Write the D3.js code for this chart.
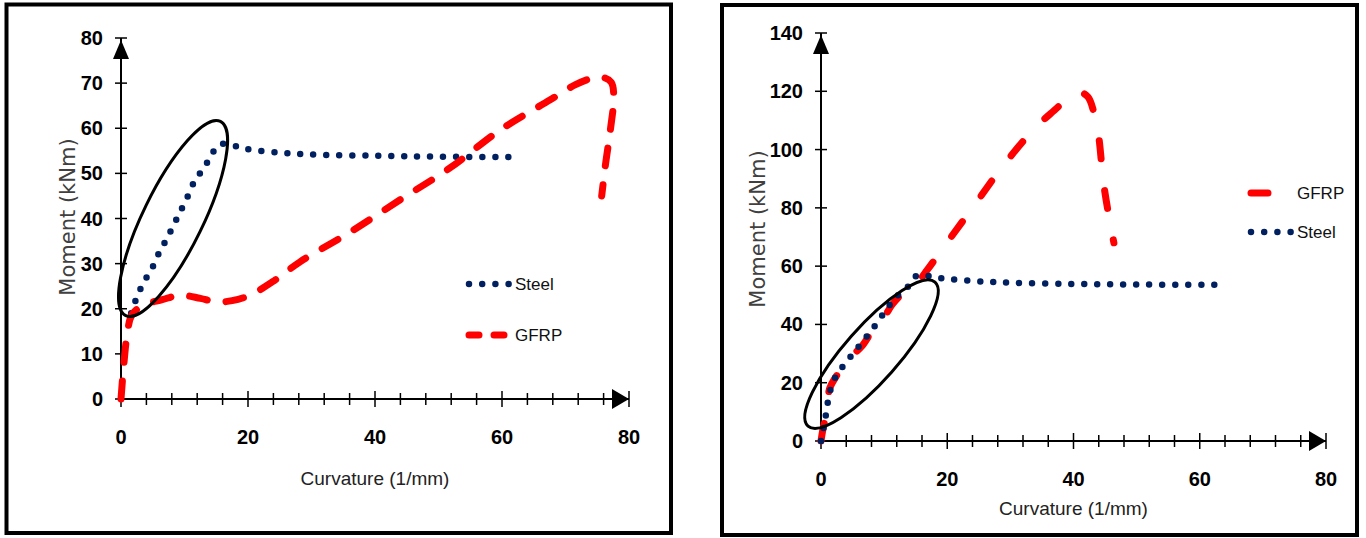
<!DOCTYPE html>
<html>
<head>
<meta charset="utf-8">
<script src="https://cdn.jsdelivr.net/npm/d3@7"></script>
<style>
  body { margin: 0; background: #fff; }
  svg { display: block; }
  .tick-label { font-family: "Liberation Sans", Arial, sans-serif; font-weight: bold; font-size: 20px; fill: #000; }
  .axis-title { font-family: "Liberation Sans", Arial, sans-serif; font-size: 19px; fill: #222; }
  .y-title { font-family: "DejaVu Sans", Verdana, sans-serif; font-size: 21px; fill: #404040; }
  .legend-text { font-family: "Liberation Sans", Arial, sans-serif; font-size: 17px; fill: #111; }
</style>
</head>
<body>
<div id="chart"></div>
<script>
var svgWidth = 1366;
var svgHeight = 538;

// left panel data
var leftSteelX = [1.6, 2.5, 3.6, 4.9, 6.0, 7.2, 8.3, 9.4, 10.6, 11.7, 13.1, 14.3, 15.7, 17.8, 19.8, 25, 30, 40, 50, 62.5];
var leftSteelY = [19, 22.6, 25.9, 29, 32.4, 35.5, 38.6, 41.7, 45.2, 48.6, 51.2, 54.3, 56.5, 56.1, 55.4, 54.6, 54.2, 53.9, 53.7, 53.6];
var leftGfrpX = [0, 0.4, 1.0, 1.7, 3.5, 6.5, 9.3, 12.5, 15.1, 17.5, 20.3, 24.3, 28.2, 36.1, 43.9, 51.8, 59.7, 67.6, 71.5, 74, 75.8, 77.2, 77.6, 77.1, 76.3, 75.7];
var leftGfrpY = [0, 7, 14.6, 18.6, 20.8, 22, 23, 22.3, 21.5, 21.8, 23, 26.4, 30.4, 37, 44.1, 51.2, 59.6, 66.3, 69.6, 71, 71.3, 70.2, 67, 60, 52, 45];

// right panel data
var rightSteelX = [0, 0.5, 0.9, 1.3, 2.2, 3.5, 4.9, 6.3, 7.8, 9.2, 10.5, 11.9, 13.6, 15.1, 17.1, 19, 25, 30, 40, 50, 62.9];
var rightSteelY = [0, 5.5, 10.6, 16, 21.6, 25.7, 29.5, 33.3, 37.4, 41.5, 45.6, 49.4, 52.5, 56.6, 56.6, 55.9, 54.8, 54.3, 53.9, 53.7, 53.6];
var rightGfrpX = [0, 0.3, 0.8, 1.4, 2.5, 3.5, 5, 6.5, 8.6, 10, 11.3, 13.8, 15.5, 16.8, 19.9, 24, 28.7, 33.9, 37.5, 39.5, 41, 42.3, 43.2, 43.9, 44.8, 45.7, 46.4];
var rightGfrpY = [0, 4, 9, 18.2, 22.5, 26, 29.5, 32.6, 39.4, 42.5, 46.9, 52.4, 55, 58.6, 67.9, 80, 94, 107.4, 114.5, 118.7, 119.7, 118, 113, 106, 88, 76, 68];

// tick labels
var xTicks = [0, 20, 40, 60, 80];
var leftYTicks = [0, 10, 20, 30, 40, 50, 60, 70, 80];
var rightYTicks = [0, 20, 40, 60, 80, 100, 120, 140];

// circled region centres (data units)
var leftCircle = [8.2, 40.0];
var rightCircle = [8.0, 29.8];

function zip(xs, ys) {
  return xs.map(function(x, i) { return { x: x, y: ys[i] }; });
}

var svg = d3.select("#chart")
  .append("svg")
  .attr("width", svgWidth)
  .attr("height", svgHeight);

function drawPanel(cfg) {
  var g = svg.append("g");

  // frame
  g.append("rect")
    .attr("x", cfg.frame[0])
    .attr("y", cfg.frame[1])
    .attr("width", cfg.frame[2])
    .attr("height", cfg.frame[3])
    .attr("fill", "none")
    .attr("stroke", "#000")
    .attr("stroke-width", 4);

  var x = d3.scaleLinear().domain([0, 80]).range(cfg.xRange);
  var y = d3.scaleLinear().domain([0, cfg.yMax]).range(cfg.yRange);

  // x axis with minor ticks crossing the line
  var xAxis = g.append("g").attr("transform", "translate(0," + y(0) + ")");
  xAxis.append("line")
    .attr("x1", x(0)).attr("x2", x(80))
    .attr("stroke", "#000").attr("stroke-width", 2);
  xAxis.selectAll(".minor")
    .data(d3.range(0, 81, 4))
    .enter().append("line")
    .attr("x1", d => x(d)).attr("x2", d => x(d))
    .attr("y1", d => d % 20 === 0 ? -8 : -6)
    .attr("y2", d => d % 20 === 0 ? 8 : 6)
    .attr("stroke", "#000").attr("stroke-width", 1.5);
  xAxis.append("path")
    .attr("d", "M" + x(80) + ",0 l-17,-10 l0,20 z")
    .attr("fill", "#000");
  xAxis.selectAll(".tick-label")
    .data(xTicks)
    .enter().append("text")
    .attr("class", "tick-label")
    .attr("x", d => x(d))
    .attr("y", 38)
    .attr("text-anchor", "middle")
    .attr("dominant-baseline", "central")
    .text(d => d);

  // y axis
  var yAxis = g.append("g").attr("transform", "translate(" + x(0) + ",0)");
  yAxis.append("line")
    .attr("y1", y(0)).attr("y2", y(cfg.yMax))
    .attr("stroke", "#000").attr("stroke-width", 2);
  yAxis.selectAll(".ytick")
    .data(cfg.yTicks)
    .enter().append("line")
    .attr("x1", -6).attr("x2", 6)
    .attr("y1", d => y(d)).attr("y2", d => y(d))
    .attr("stroke", "#000").attr("stroke-width", 1.5);
  yAxis.append("path")
    .attr("d", "M0," + (y(cfg.yMax) + 2) + " l-8,19 l16,0 z")
    .attr("fill", "#000");
  yAxis.selectAll(".tick-label")
    .data(cfg.yTicks)
    .enter().append("text")
    .attr("class", "tick-label")
    .attr("x", -18)
    .attr("y", d => y(d))
    .attr("text-anchor", "end")
    .attr("dominant-baseline", "central")
    .text(d => d);

  // axis titles
  g.append("text")
    .attr("class", "axis-title")
    .attr("x", (x(0) + x(80)) / 2)
    .attr("y", cfg.xTitleY)
    .attr("text-anchor", "middle")
    .attr("dominant-baseline", "central")
    .text("Curvature (1/mm)");
  g.append("text")
    .attr("class", "y-title")
    .attr("transform", "translate(" + cfg.yTitle[0] + "," + cfg.yTitle[1] + ") rotate(-90)")
    .attr("text-anchor", "middle")
    .attr("dominant-baseline", "central")
    .text("Moment (kNm)");

  var line = d3.line()
    .x(d => x(d.x))
    .y(d => y(d.y))
    .curve(d3.curveCatmullRom.alpha(0.5));

  var styles = {
    Steel: { stroke: "#002060", width: 6.5, dash: "0 13" },
    GFRP: { stroke: "#ff0000", width: 7, dash: cfg.gfrpDash }
  };

  cfg.series.forEach(function(s) {
    var st = styles[s.name];
    g.append("path")
      .datum(s.data)
      .attr("d", line)
      .attr("fill", "none")
      .attr("stroke", st.stroke)
      .attr("stroke-width", st.width)
      .attr("stroke-linecap", "round")
      .attr("stroke-dasharray", st.dash);
  });

  // ellipse round the early part
  var c = cfg.circle;
  g.append("ellipse")
    .attr("cx", 0).attr("cy", 0)
    .attr("rx", c.rx).attr("ry", c.ry)
    .attr("transform", "translate(" + x(c.at[0]) + "," + y(c.at[1]) + ") rotate(" + c.angle + ")")
    .attr("fill", "none")
    .attr("stroke", "#000")
    .attr("stroke-width", 3);

  // legend
  cfg.series.forEach(function(s, i) {
    var st = styles[s.name];
    var ly = cfg.legend.y[i];
    g.append("line")
      .attr("x1", cfg.legend.x).attr("x2", cfg.legend.x + s.legendLen)
      .attr("y1", ly).attr("y2", ly)
      .attr("stroke", st.stroke)
      .attr("stroke-width", st.width)
      .attr("stroke-linecap", "round")
      .attr("stroke-dasharray", s.name === "Steel" ? "0 13.2" : s.legendDash);
    g.append("text")
      .attr("class", "legend-text")
      .attr("x", cfg.legend.tx)
      .attr("y", ly)
      .attr("dominant-baseline", "central")
      .text(s.name);
  });
}

drawPanel({
  frame: [6.5, 4.5, 664.5, 528.5],
  xRange: [121, 629],
  yRange: [399, 38],
  yMax: 80,
  yTicks: leftYTicks,
  xTitleY: 478,
  yTitle: [68, 217],
  gfrpDash: "18 19",
  series: [
    { name: "Steel", data: zip(leftSteelX, leftSteelY), legendLen: 40 },
    { name: "GFRP", data: zip(leftGfrpX, leftGfrpY), legendLen: 41, legendDash: "10 15" }
  ],
  circle: { at: leftCircle, rx: 108, ry: 30, angle: -64 },
  legend: { x: 469, tx: 515, y: [284, 335] }
});

drawPanel({
  frame: [722, 5, 635, 530],
  xRange: [821, 1326],
  yRange: [441, 33],
  yMax: 140,
  yTicks: rightYTicks,
  xTitleY: 508,
  yTitle: [758, 229],
  gfrpDash: "18 32",
  series: [
    { name: "GFRP", data: zip(rightGfrpX, rightGfrpY), legendLen: 17, legendDash: "17 40" },
    { name: "Steel", data: zip(rightSteelX, rightSteelY), legendLen: 40 }
  ],
  circle: { at: rightCircle, rx: 96, ry: 27, angle: -48.6 },
  legend: { x: 1251, tx: 1297, y: [193, 232] }
});
</script>
</body>
</html>
